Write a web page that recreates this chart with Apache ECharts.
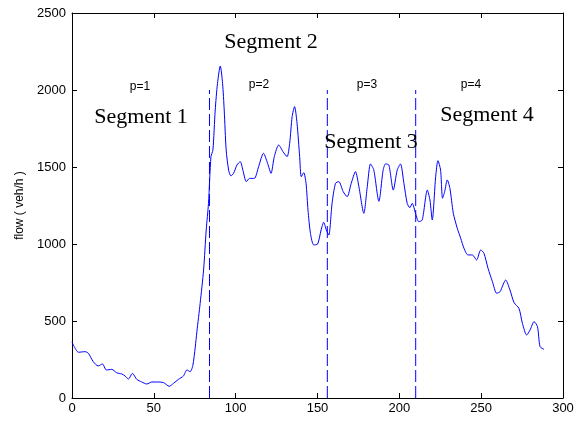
<!DOCTYPE html>
<html>
<head>
<meta charset="utf-8">
<script src="https://cdn.jsdelivr.net/npm/echarts@6/dist/echarts.min.js"></script>
<style>html,body{margin:0;padding:0;background:#fff;}#c{width:583px;height:421px;}</style>
</head>
<body>
<div id="c"></div>
<script>
// time index (x) and flow values (veh/h)
const flowX = [0,1,4,8,10,13,16,18.6,21,24.3,27.3,30.4,32.4,34.5,36.9,39.6,42.6,45.7,48.8,51.8,55.9,59.4,62,65,68.1,70.2,72.2,73.8,75.3,76.3,78.3,80.4,82,83.4,84.9,86.1,87.5,88.9,90.6,92,93,94.2,95.7,97.1,98.7,100.8,102.8,104.4,106.5,108.5,111.4,114,117,119.5,121.6,123.6,126.3,128.9,131.4,133,134.5,136,137.5,139.1,140.1,141.6,143,144.2,145.7,147.7,150.1,152.2,153.8,155.4,156.9,158.9,161,163,165.7,168.1,170.6,173.2,175.3,178.3,180.4,182.4,184.4,187.5,190.1,191.6,193.6,196.3,198.7,200.7,202.8,204.8,206.4,207.9,209.9,211.9,214,217.1,218.7,220.1,222.2,223.6,225.2,226.4,227.7,229.3,230.9,233,235.4,237.5,239.5,241.9,244.6,247.2,249.7,251.7,254.2,256.9,259.5,261.5,265,267.6,270.1,273.1,275.2,277.8,279.9,282.3,284.4,286,288.4];
const flowY = [365,340,297,301,290,236,208,221,182,186,164,156,143,123,160,121,104,91,104,104,100,76,95,121,143,182,171,210,330,430,615,831,1091,1264,1567,1610,1870,2043,2156,2043,1870,1610,1480,1442,1459,1513,1535,1480,1405,1426,1426,1502,1589,1524,1459,1567,1643,1600,1567,1654,1827,1892,1784,1567,1437,1463,1394,1220,1069,994,1000,1091,1141,1091,1058,1264,1394,1405,1340,1307,1394,1470,1372,1199,1372,1520,1480,1277,1480,1520,1513,1350,1480,1520,1394,1264,1236,1264,1199,1145,1156,1350,1286,1156,1437,1541,1480,1297,1340,1416,1362,1199,1102,1037,972,929,929,896,961,940,842,755,680,690,766,701,619,582,485,409,442,496,463,333,316];
// segment boundaries (dashed lines)
const boundaries = [84, 156, 210];
const boundaryTop = 2000;
const xTicks = [0,50,100,150,200,250,300];
const yTicks = [0,500,1000,1500,2000,2500];
const pLabels = ['p=1','p=2','p=3','p=4'];
const segLabels = ['Segment 1','Segment 2','Segment 3','Segment 4'];

const chart = echarts.init(document.getElementById('c'), null, {renderer:'canvas'});
const axisLine = {show:true, onZero:false, lineStyle:{color:'#000', width:1}};
const tick = {show:true, inside:true, length:5, lineStyle:{color:'#000'}};
const labelStyle = {color:'#000', fontFamily:'Liberation Sans, Arial', fontSize:13, formatter:(v)=>String(v)};

const series = [{
  type:'line', data: flowX.map((x,i)=>[x, flowY[i]]), showSymbol:false, smooth:0.25,
  color:'#0000ff', lineStyle:{color:'#0000ff', width:1}, itemStyle:{color:'#0000ff'}, z:3
}];
boundaries.forEach(b=>{
  series.push({type:'line', data:[[b,0],[b,boundaryTop]], showSymbol:false, color:'#0000ff',
    lineStyle:{color:'#0000ff', width:1, type:[12,4]}, itemStyle:{color:'#0000ff'}, z:2});
});

const pPos = [[140,87],[259,85],[367,85],[471,85]];
const segPos = [[141,117],[271,42],[371,142],[487,115]];
const graphics = [];
pLabels.forEach((t,i)=>graphics.push({type:'text', x:pPos[i][0], y:pPos[i][1], z:10,
  style:{text:t, fill:'#000', font:'12px "Liberation Sans", Arial', align:'center', verticalAlign:'middle'}}));
segLabels.forEach((t,i)=>graphics.push({type:'text', x:segPos[i][0], y:segPos[i][1], z:10,
  style:{text:t, fill:'#000', font:'22px "Liberation Serif", "Times New Roman", serif', align:'center', verticalAlign:'middle'}}));

chart.setOption({
  animation:false,
  backgroundColor:'#fff',
  grid:{left:72, right:20, top:13, bottom:23, containLabel:false},
  xAxis:[{
    type:'value', min:0, max:300, interval:50, position:'bottom',
    axisLine, axisTick:tick, splitLine:{show:false},
    axisLabel:Object.assign({margin:4}, labelStyle)
  },{
    type:'value', min:0, max:300, interval:50, position:'top',
    axisLine, axisTick:tick, splitLine:{show:false}, axisLabel:{show:false}
  }],
  yAxis:[{
    type:'value', min:0, max:2500, interval:500, position:'left',
    axisLine, axisTick:tick, splitLine:{show:false},
    axisLabel:Object.assign({margin:6}, labelStyle),
    name:'flow ( veh/h )', nameLocation:'middle', nameGap:42, nameRotate:90,
    nameTextStyle:{color:'#000', fontFamily:'Liberation Sans, Arial', fontSize:12}
  },{
    type:'value', min:0, max:2500, interval:500, position:'right',
    axisLine, axisTick:tick, splitLine:{show:false}, axisLabel:{show:false}
  }],
  series,
  graphic: graphics
});
</script>
</body>
</html>
